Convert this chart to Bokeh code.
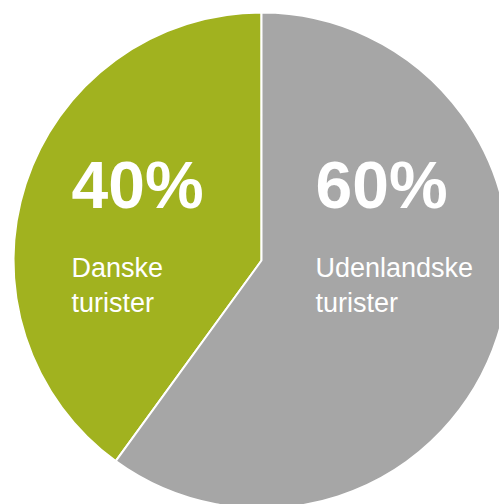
import math
from bokeh.plotting import figure
from bokeh.models import Range1d, ColumnDataSource
from bokeh.embed import file_html
from bokeh.resources import INLINE
from bokeh.core.properties import value

# Data
categories = ["Danske turister", "Udenlandske turister"]
line1 = ["Danske", "Udenlandske"]
line2 = ["turister", "turister"]
shares = [40, 60]
colors = ["#A1B21F", "#A6A6A6"]

W, H = 499, 504
cx, cy, r = 261, 244, 248

total = sum(shares)
starts, ends = [], []
a = math.pi / 2
for s in shares:
    starts.append(a)
    a = a + 2 * math.pi * s / total
    ends.append(a)

src = ColumnDataSource(dict(cat=categories, start=starts, end=ends, color=colors))

p = figure(width=W, height=H, x_range=Range1d(0, W), y_range=Range1d(0, H),
           output_backend="svg", toolbar_location=None, min_border=0)
p.axis.visible = False
p.grid.visible = False
p.outline_line_color = None
p.background_fill_color = "white"
p.border_fill_color = "white"

p.wedge(x=cx, y=cy, radius=r, radius_units="screen", start_angle="start", end_angle="end",
        direction="anticlock", fill_color="color", line_color="white", line_width=2, source=src)

pct_labels = [f"{v}%" for v in shares]
tx = [71, 315]
p.text(x=tx, y=[320, 320], text=pct_labels, text_color="white", text_font=value("Liberation Sans"),
       text_font_style="bold", text_font_size="66px", text_baseline="alphabetic", text_align="left")
p.text(x=tx, y=[237, 237], text=line1, text_color="white", text_font=value("Liberation Sans"),
       text_font_size="27px", text_baseline="alphabetic", text_align="left")
p.text(x=tx, y=[202, 202], text=line2, text_color="white", text_font=value("Liberation Sans"),
       text_font_size="27px", text_baseline="alphabetic", text_align="left")

open("out.html", "w").write(file_html(p, INLINE))
